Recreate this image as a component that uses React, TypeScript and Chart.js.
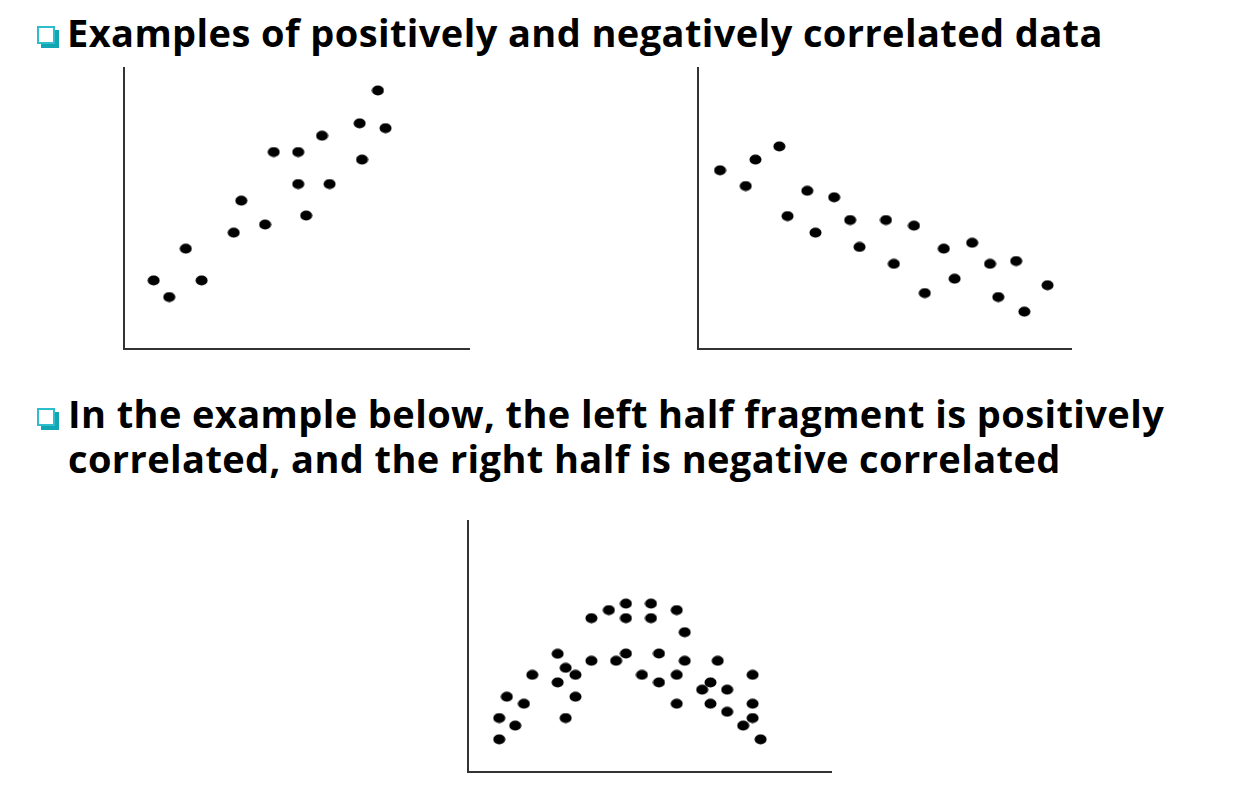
import React, { useEffect, useRef } from "react";
import { Chart, registerables } from "chart.js";

Chart.register(...registerables);

// Positive correlation (top-left)
const posX = [0.86, 1.31, 1.79, 2.25, 3.18, 3.40, 4.09, 4.34, 5.05, 5.05, 5.28, 5.74, 5.96, 6.83, 6.90, 7.36, 7.58];
const posY = [2.44, 1.85, 3.57, 2.44, 4.14, 5.28, 4.43, 7.01, 7.01, 5.87, 4.75, 7.59, 5.87, 8.03, 6.74, 9.20, 7.86];

// Negative correlation (top-right)
const negX = [0.59, 1.28, 1.54, 2.18, 2.40, 2.93, 3.15, 3.65, 4.08, 4.33, 5.04, 5.25, 5.79, 6.08, 6.59, 6.88, 7.35, 7.83, 8.05, 8.53, 8.75, 9.37];
const negY = [6.36, 5.80, 6.74, 7.21, 4.73, 5.63, 4.14, 5.40, 4.59, 3.63, 4.59, 3.03, 4.39, 1.99, 3.57, 2.50, 3.78, 3.03, 1.85, 3.13, 1.33, 2.27];

// Rise-then-fall (bottom)
const archX = [0.86, 0.86, 1.07, 1.30, 1.54, 1.77, 2.47, 2.47, 2.69, 2.69, 2.96, 2.96, 3.40, 3.40, 3.88, 4.08, 4.35, 4.35, 4.35, 4.79, 5.04, 5.04, 5.26, 5.26, 5.75, 5.75, 5.75, 5.97, 5.97, 6.45, 6.68, 6.68, 6.88, 7.14, 7.14, 7.58, 7.84, 7.84, 7.84, 8.06];
const archY = [1.30, 2.15, 3.00, 1.85, 2.72, 3.87, 4.71, 3.57, 4.15, 2.15, 3.87, 3.00, 6.13, 4.43, 6.45, 4.43, 6.71, 6.13, 4.72, 3.87, 6.71, 6.13, 4.72, 3.57, 6.45, 3.87, 2.72, 5.57, 4.43, 3.28, 3.57, 2.72, 4.43, 3.28, 2.40, 1.85, 3.87, 2.72, 2.15, 1.30];

const heading1 = "Examples of positively and negatively correlated data";
const heading2a = "In the example below, the left half fragment is positively";
const heading2b = "correlated, and the right half is negative correlated";

function makeDot(): HTMLCanvasElement {
  const c = document.createElement("canvas");
  c.width = 13;
  c.height = 11;
  const ctx = c.getContext("2d")!;
  ctx.fillStyle = "#000";
  ctx.beginPath();
  ctx.ellipse(6.5, 5.5, 6, 5, 0, 0, Math.PI * 2);
  ctx.fill();
  return c;
}

type PlotProps = { xs: number[]; ys: number[]; left: number; top: number; width: number; height: number };

function Plot({ xs, ys, left, top, width, height }: PlotProps) {
  const ref = useRef<HTMLCanvasElement>(null);
  useEffect(() => {
    const dot = makeDot();
    const axis = (min: number, max: number) => ({
      type: "linear" as const,
      min,
      max,
      grid: { display: false, drawTicks: false },
      ticks: { display: false },
      border: { display: true, color: "#333", width: 2 },
    });
    const chart = new Chart(ref.current!, {
      type: "scatter",
      data: {
        datasets: [
          {
            data: xs.map((x, i) => ({ x, y: ys[i] })),
            pointStyle: dot as any,
            pointRadius: 6,
            backgroundColor: "#000",
            borderColor: "#000",
          },
        ],
      },
      options: {
        responsive: false,
        animation: false,
        clip: false as any,
        layout: { padding: 6 },
        plugins: { legend: { display: false }, tooltip: { enabled: false } },
        scales: { x: axis(0, 10), y: axis(0, 10) },
      },
    });
    return () => chart.destroy();
  }, []);
  return (
    <canvas
      ref={ref}
      width={width}
      height={height}
      style={{ position: "absolute", left, top, width, height }}
    />
  );
}

function Bullet({ left, top }: { left: number; top: number }) {
  return (
    <div
      style={{
        position: "absolute",
        left,
        top,
        width: 14,
        height: 14,
        border: "2.5px solid #2ebdcc",
        boxShadow: "4px 4px 0 #12a6b4",
        background: "#fff",
      }}
    />
  );
}

const textStyle: React.CSSProperties = {
  position: "absolute",
  fontFamily: "'Open Sans', sans-serif",
  fontWeight: 700,
  fontSize: 38,
  letterSpacing: "0.4px",
  lineHeight: "45px",
  color: "#000",
  whiteSpace: "nowrap",
  margin: 0,
};

export default function App() {
  return (
    <div style={{ position: "absolute", left: 0, top: 0, width: 1243, height: 786, background: "#fff", overflow: "hidden" }}>
      <Bullet left={37} top={26} />
      <div style={{ ...textStyle, left: 67, top: 9.5 }}>{heading1}</div>
      <Plot xs={posX} ys={posY} left={117} top={61} width={359} height={295} />
      <Plot xs={negX} ys={negY} left={691} top={61} width={387} height={295} />
      <Bullet left={37} top={408} />
      <div style={{ ...textStyle, left: 68, top: 391 }}>
        {heading2a}
        <br />
        {heading2b}
      </div>
      <Plot xs={archX} ys={archY} left={461} top={514} width={377} height={265} />
    </div>
  );
}
